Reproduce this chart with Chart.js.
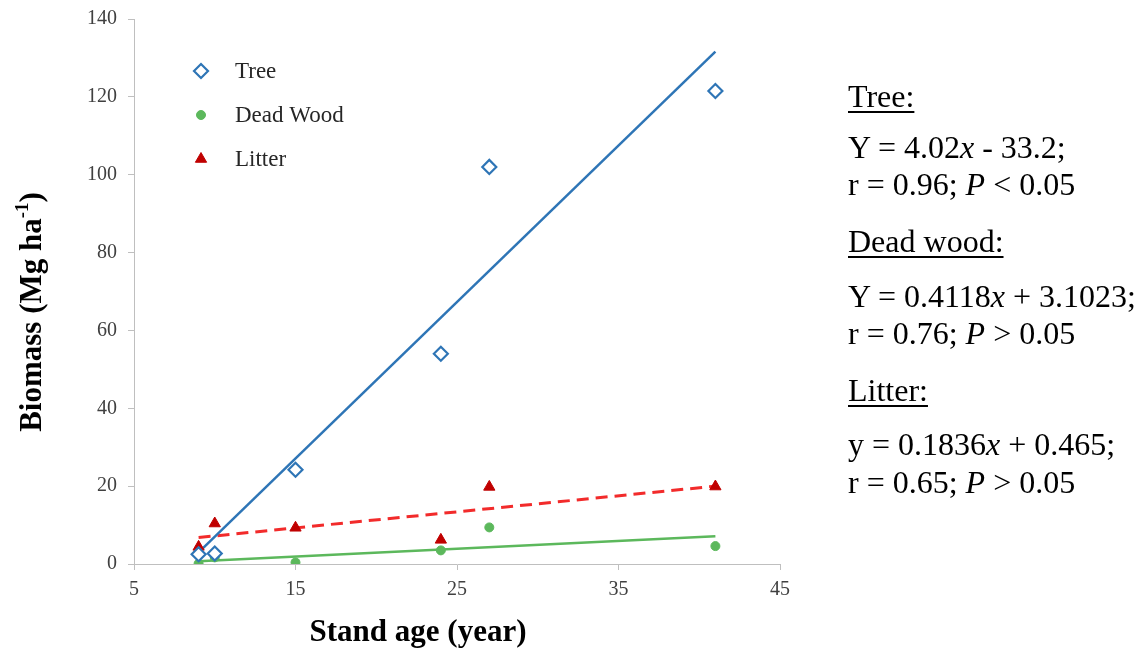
<!DOCTYPE html>
<html>
<head>
<meta charset="utf-8">
<script src="https://cdn.jsdelivr.net/npm/chart.js@4"></script>
<style>
  body { margin: 0; background: #fff; }
  #wrap { position: relative; width: 1146px; height: 651px; }
  .eq { position: absolute; left: 848px; font-family: 'Liberation Serif', 'Times New Roman', serif;
        font-size: 32px; line-height: 32px; color: #000; white-space: nowrap; }
  .eq.head { text-decoration: underline; text-decoration-thickness: 1.5px; text-underline-offset: 4px; }
</style>
</head>
<body>
<div id="wrap">
  <canvas id="myChart" width="1146" height="651"></canvas>
  <div class="eq head" style="top:80px">Tree:</div>
  <div class="eq" style="top:131px">Y = 4.02<i>x</i> - 33.2;</div>
  <div class="eq" style="top:168px">r = 0.96; <i>P</i> &lt; 0.05</div>
  <div class="eq head" style="top:225px">Dead wood:</div>
  <div class="eq" style="top:280px">Y = 0.4118<i>x</i> + 3.1023;</div>
  <div class="eq" style="top:317px">r = 0.76; <i>P</i> &gt; 0.05</div>
  <div class="eq head" style="top:374px">Litter:</div>
  <div class="eq" style="top:428px">y = 0.1836<i>x</i> + 0.465;</div>
  <div class="eq" style="top:466px">r = 0.65; <i>P</i> &gt; 0.05</div>
</div>
<script>
const standAge = [9, 10, 15, 24, 27, 41];
const treeBiomass = [2.5, 2.7, 24.2, 54.0, 102.0, 121.5];
const deadWoodBiomass = [0.1, 1.7, 0.4, 3.5, 9.4, 4.6];
const litterBiomass = [4.4, 10.4, 9.3, 6.2, 19.8, 19.9];

// fitted lines, ends at the youngest and oldest stand
const trendAge = [9, 41];
const treeTrend = [3.0, 131.6];
const deadWoodTrend = [0.7, 7.1];
const litterTrend = [6.8, 20.0];

const xTicks = [5, 15, 25, 35, 45];
const yTicks = [0, 20, 40, 60, 80, 100, 120, 140];

const BLUE = '#2e75b6';
const GREEN = '#5cb85c';
const DARKRED = '#c00000';
const RED = '#f22b2b';
const SERIF = "'Liberation Serif', 'Times New Roman', serif";

function pts(xs, ys) {
  return xs.map((x, i) => ({ x: x, y: ys[i] }));
}

// legend drawn inside the plot, top left
const innerLegend = {
  id: 'innerLegend',
  afterDatasetsDraw(chart) {
    const ctx = chart.ctx;
    const items = chart.data.datasets.filter(d => d.legendText);
    items.forEach((d, i) => {
      const y = 71 + i * 44;
      ctx.save();
      ctx.fillStyle = d.backgroundColor;
      ctx.strokeStyle = d.borderColor;
      ctx.lineWidth = d.borderWidth;
      Chart.helpers.drawPoint(ctx, {
        pointStyle: d.pointStyle, radius: d.pointRadius, rotation: 0, borderWidth: d.borderWidth
      }, 201, y);
      ctx.fillStyle = '#262626';
      ctx.font = '23px ' + SERIF;
      ctx.textBaseline = 'middle';
      ctx.fillText(d.legendText, 235, y + 1);
      ctx.restore();
    });
  }
};

// axis titles, the y one needs a superscript
const axisTitles = {
  id: 'axisTitles',
  afterDraw(chart) {
    const ctx = chart.ctx;
    ctx.save();
    ctx.fillStyle = '#000';
    ctx.textBaseline = 'middle';
    ctx.textAlign = 'center';
    ctx.font = 'bold 31px ' + SERIF;
    ctx.fillText('Stand age (year)', 418, 633);

    const main = 'Biomass (Mg ha';
    const sup = '-1';
    const tail = ')';
    const big = 'bold 31px ' + SERIF;
    const small = 'bold 19px ' + SERIF;
    ctx.font = big;
    const wMain = ctx.measureText(main).width;
    const wTail = ctx.measureText(tail).width;
    ctx.font = small;
    const wSup = ctx.measureText(sup).width;
    const total = wMain + wSup + wTail;
    ctx.translate(33, 312);
    ctx.rotate(-Math.PI / 2);
    ctx.textAlign = 'left';
    let x = -total / 2;
    ctx.font = big;
    ctx.fillText(main, x, 0);
    x += wMain;
    ctx.font = small;
    ctx.fillText(sup, x, -10);
    x += wSup;
    ctx.font = big;
    ctx.fillText(tail, x, 0);
    ctx.restore();
  }
};

const ctx = document.getElementById('myChart');
const myChart = new Chart(ctx, {
  type: 'scatter',
  data: {
    datasets: [{
      label: 'Tree',
      legendText: 'Tree',
      data: pts(standAge, treeBiomass),
      pointStyle: 'rectRot',
      pointRadius: 7,
      borderWidth: 2.2,
      backgroundColor: '#ffffff',
      borderColor: BLUE,
      order: 1
    }, {
      label: 'Dead Wood',
      legendText: 'Dead Wood',
      data: pts(standAge, deadWoodBiomass),
      pointStyle: 'circle',
      pointRadius: 4.5,
      borderWidth: 1,
      backgroundColor: GREEN,
      borderColor: GREEN,
      order: 1
    }, {
      label: 'Litter',
      legendText: 'Litter',
      data: pts(standAge, litterBiomass),
      pointStyle: 'triangle',
      pointRadius: 6.5,
      borderWidth: 1,
      backgroundColor: DARKRED,
      borderColor: DARKRED,
      order: 1
    }, {
      label: 'Tree fit',
      data: pts(trendAge, treeTrend),
      showLine: true,
      pointRadius: 0,
      borderColor: BLUE,
      borderWidth: 2.5,
      order: 2
    }, {
      label: 'Dead Wood fit',
      data: pts(trendAge, deadWoodTrend),
      showLine: true,
      pointRadius: 0,
      borderColor: GREEN,
      borderWidth: 2.5,
      order: 2
    }, {
      label: 'Litter fit',
      data: pts(trendAge, litterTrend),
      showLine: true,
      pointRadius: 0,
      borderColor: RED,
      borderWidth: 3,
      borderDash: [12, 7],
      order: 2
    }]
  },
  options: {
    responsive: false,
    animation: false,
    layout: { padding: { left: 0, top: 19, right: 366, bottom: 0 } },
    plugins: {
      legend: { display: false },
      tooltip: { enabled: false }
    },
    scales: {
      x: {
        type: 'linear',
        min: 5,
        max: 45,
        afterBuildTicks: axis => { axis.ticks = xTicks.map(v => ({ value: v })); },
        afterFit: axis => { axis.height = 87; axis.paddingLeft = 0; axis.paddingRight = 0; },
        grid: { drawOnChartArea: false, tickLength: 6, color: '#bfbfbf' },
        border: { color: '#bfbfbf', width: 1 },
        ticks: { color: '#404040', font: { family: SERIF, size: 20 }, padding: 8 }
      },
      y: {
        min: 0,
        max: 140,
        afterBuildTicks: axis => { axis.ticks = yTicks.map(v => ({ value: v })); },
        afterFit: axis => { axis.width = 134; axis.paddingTop = 0; axis.paddingBottom = 0; },
        grid: { drawOnChartArea: false, tickLength: 6, color: '#bfbfbf' },
        border: { color: '#bfbfbf', width: 1 },
        ticks: { color: '#404040', font: { family: SERIF, size: 20 }, padding: 11 }
      }
    }
  },
  plugins: [innerLegend, axisTitles]
});
</script>
</body>
</html>
